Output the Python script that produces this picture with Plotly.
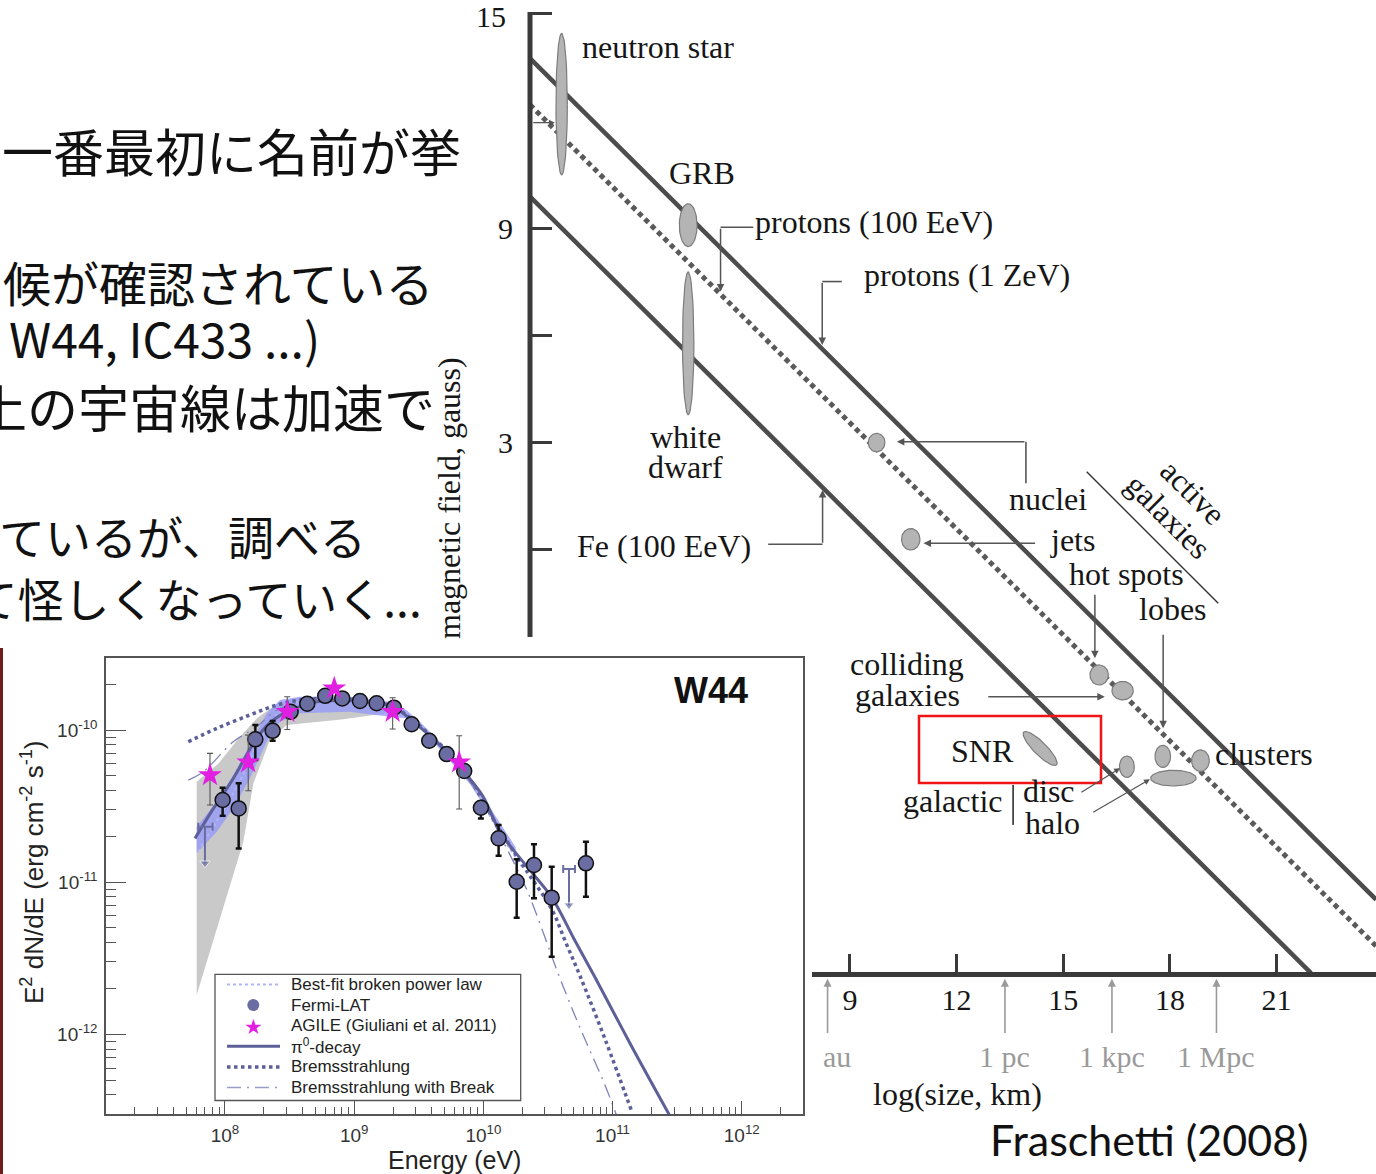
import numpy as np
import plotly.graph_objects as go

W, H = 1376, 1174

# ======================= Hillas diagram data =======================
# acceleration limits: log B = intercept + slope * log R   (R in km, B in gauss)
limit_names = ["protons (1 ZeV)", "protons (100 EeV)", "Fe (100 EeV)"]
limit_intercept = [13.75, 12.45, 9.88]
limit_slope = -0.99
limit_logR_end = [23.8, 23.8, 21.97]

# source classes: centre (log size, log field) and half extents
src_names = ["neutron star", "GRB", "white dwarf", "AGN nuclei", "AGN jets", "hot spots",
             "colliding galaxies", "SNR", "galactic disc", "clusters", "clusters", "galactic halo"]
src_logR = [0.89, 4.45, 4.45, 9.75, 10.71, 16.01, 16.67, 14.35, 16.79, 17.80, 18.86, 18.10]
src_logB = [12.47, 9.08, 5.77, 2.99, 0.28, -3.52, -3.96, -5.58, -6.09, -5.80, -5.92, -6.41]
src_dR = [0.16, 0.25, 0.16, 0.235, 0.26, 0.26, 0.30, 0.65, 0.21, 0.22, 0.25, 0.64]
src_dB = [1.98, 0.60, 2.00, 0.26, 0.30, 0.28, 0.26, 0.18, 0.30, 0.31, 0.30, 0.22]
src_tilt = [0, 0, 0, 0, 0, 0, 0, -45, 0, 0, 0, 0]

size_ticks = [9, 12, 15, 18, 21]
field_ticks = [15, 9, 6, 3, 0]
field_ticktext = ["", "9", "", "3", ""]   # the top label is placed separately below
field_top_label = "15"
scale_names = ["au", "1 pc", "1 kpc", "1 Mpc"]
scale_logR = [8.37, 13.36, 16.37, 19.31]

# ======================= W44 spectrum data =======================
# log10 E [eV], log10 E^2 dN/dE [erg cm^-2 s^-1]
lat_logE = [7.982, 8.106, 8.235, 8.369, 8.508, 8.637, 8.776, 8.908, 9.045, 9.174, 9.308,
            9.445, 9.581, 9.716, 9.852, 9.981, 10.118, 10.258, 10.392, 10.529, 10.794]
lat_logF = [-10.46, -10.515, -10.061, -10.005, -9.880, -9.827, -9.775, -9.792, -9.809, -9.824, -9.853,
            -9.962, -10.070, -10.158, -10.269, -10.511, -10.712, -10.997, -10.887, -11.102, -10.876]
lat_logF_hi = [-10.379, -10.350, -9.967, -9.941, -9.865, -9.812, -9.760, -9.777, -9.794, -9.809, -9.838,
               -9.947, -10.055, -10.143, -10.254, -10.482, -10.624, -10.850, -10.751, -10.898, -10.734]
lat_logF_lo = [-10.563, -10.778, -10.197, -10.070, -9.895, -9.842, -9.790, -9.807, -9.824, -9.839, -9.868,
               -9.977, -10.085, -10.173, -10.284, -10.581, -10.826, -11.234, -11.106, -11.490, -11.096]

ul_logE = [7.845, 10.663]
ul_logE_lo = [7.793, 10.618]
ul_logE_hi = [7.904, 10.709]
ul_logF = [-10.636, -10.914]
ul_logF_tip = [-10.876, -11.151]

agile_logE = [7.884, 8.180, 8.482, 8.846, 9.298, 9.813]
agile_logF = [-10.296, -10.212, -9.880, -9.726, -9.880, -10.212]
agile_logF_hi = [-10.153, -10.033, -9.781, -9.706, -9.788, -10.037]
agile_logF_lo = [-10.493, -10.399, -9.996, -9.746, -9.993, -10.519]

pi0_logE = [7.768, 7.90, 8.064, 8.15, 8.245, 8.35, 8.477, 8.60, 8.71, 8.90, 9.097, 9.303,
            9.458, 9.60, 9.716, 9.871, 10.0, 10.128, 10.32, 10.529, 10.70, 10.861, 11.142, 11.44]
pi0_logF = [-10.712, -10.53, -10.318, -10.19, -10.055, -9.95, -9.880, -9.84, -9.814, -9.805, -9.814, -9.847,
            -9.945, -10.05, -10.143, -10.296, -10.44, -10.668, -10.88, -11.10, -11.37, -11.62, -12.07, -12.53]

brem_logE = [7.716, 7.936, 8.193, 8.40, 8.58, 8.80, 9.10, 9.30, 9.46, 9.72, 9.87, 10.13,
             10.33, 10.53, 10.64, 10.75, 10.95, 11.15]
brem_logF = [-10.077, -9.989, -9.901, -9.836, -9.803, -9.79, -9.81, -9.845, -9.94, -10.14, -10.29, -10.66,
             -10.92, -11.18, -11.40, -11.62, -12.05, -12.51]

bbrk_logE = [7.716, 7.832, 8.064, 8.245, 8.40, 8.58, 8.80, 9.10, 9.30, 9.46, 9.72, 9.87, 10.0,
             10.128, 10.336, 10.593, 10.761, 10.941, 11.03]
bbrk_logF = [-10.329, -10.274, -10.077, -9.978, -9.87, -9.815, -9.795, -9.815, -9.85, -9.95, -10.15, -10.31, -10.47,
             -10.69, -11.05, -11.632, -11.983, -12.333, -12.53]

bpl_logE = [7.79, 7.95, 8.10, 8.25, 8.40, 8.55, 8.80, 9.10, 9.30, 9.46, 9.72, 9.87, 10.13, 10.30]
bpl_logF = [-10.80, -10.58, -10.36, -10.10, -9.90, -9.82, -9.79, -9.80, -9.84, -9.94, -10.15, -10.30, -10.68, -10.90]

band_logE = [7.781, 7.936, 8.064, 8.193, 8.323, 8.426, 8.580, 8.967, 9.277, 9.406, 9.509, 9.70, 9.90, 10.10, 10.25]
band_logF_hi = [-10.636, -10.471, -10.296, -10.099, -9.890, -9.803, -9.781, -9.781, -9.814, -9.869, -9.945,
                -10.11, -10.31, -10.57, -10.77]
band_logF_lo = [-10.81, -10.668, -10.515, -10.318, -10.077, -9.945, -9.890, -9.880, -9.913, -9.923, -9.978,
                -10.16, -10.36, -10.62, -10.82]

gray_up_logE = [7.781, 7.95, 8.10, 8.25, 8.40, 8.55, 8.90, 9.20, 9.40]
gray_up_logF = [-10.34, -10.22, -10.06, -9.92, -9.83, -9.79, -9.78, -9.80, -9.87]
gray_lo_logE = [9.40, 9.25, 8.90, 8.477, 8.35, 8.22, 8.142, 7.781]
gray_lo_logF = [-9.87, -9.89, -9.93, -9.967, -10.06, -10.35, -10.734, -11.742]

legend_labels = ["Best-fit broken power law", "Fermi-LAT", "AGILE (Giuliani et al. 2011)",
                 "\u03c0<sup>0</sup>-decay", "Bremsstrahlung", "Bremsstrahlung with Break"]

jp_lines = ["一番最初に名前が挙", "候が確認されている", "W44, IC433 ...)",
            "上の宇宙線は加速で", "ているが、調べる", "して怪しくなっていく..."]

# ======================= helpers =======================
def P(x, y):
    return x / W, 1 - y / H

def lin(a):
    return 10 ** np.asarray(a, dtype=float)

SERIF = "Liberation Serif"
SANS = "Liberation Sans"

# Hillas frame: pixel anchors of the two linear axes
X0, SX = 530.0, 35.55      # log R = 0 at x=530 px, px per decade
Y0, SY = 549.3, 35.7       # log B = 0 at y=549.3 px, px per decade
AXIS_LOGB = -11.91         # height of the size axis
YAXIS_LOW = -2.46          # where the field axis disappears under the inset

fig = go.Figure()

# ---------------------------------------------------------------
# W44 spectrum (xaxis / yaxis)
# ---------------------------------------------------------------
fig.add_trace(go.Scatter(
    x=lin(gray_up_logE + gray_lo_logE), y=lin(gray_up_logF + gray_lo_logF),
    fill="toself", fillcolor="#c9c9c9", mode="lines", line=dict(width=0),
    hoverinfo="skip"))
fig.add_trace(go.Scatter(
    x=lin(band_logE + band_logE[::-1]), y=lin(band_logF_hi + band_logF_lo[::-1]),
    fill="toself", fillcolor="rgba(150,154,248,0.8)", mode="lines", line=dict(width=0),
    hoverinfo="skip"))
fig.add_trace(go.Scatter(x=lin(bpl_logE), y=lin(bpl_logF), mode="lines", line_shape="spline",
                         line=dict(color="#b3b4f7", width=2, dash="dot")))
fig.add_trace(go.Scatter(x=lin(brem_logE), y=lin(brem_logF), mode="lines", line_shape="spline",
                         line=dict(color="#5d6098", width=3.5, dash="dot")))
fig.add_trace(go.Scatter(x=lin(bbrk_logE), y=lin(bbrk_logF), mode="lines", line_shape="spline",
                         line=dict(color="#7f83b8", width=1.3, dash="14px,6px,2px,6px")))
fig.add_trace(go.Scatter(x=lin(pi0_logE), y=lin(pi0_logF), mode="lines", line_shape="spline",
                         line=dict(color="#5d6098", width=3)))

# upper limits
for e, elo, ehi, f, tip in zip(ul_logE, ul_logE_lo, ul_logE_hi, ul_logF, ul_logF_tip):
    fig.add_trace(go.Scatter(
        x=[10 ** e], y=[10 ** f], mode="markers", marker=dict(size=0.1, color="#6a6da2"),
        error_x=dict(type="data", symmetric=False, array=[10 ** ehi - 10 ** e],
                     arrayminus=[10 ** e - 10 ** elo], color="#6a6da2", thickness=2, width=4)))
    fig.add_trace(go.Scatter(
        x=[10 ** e, 10 ** e], y=[10 ** f, 10 ** tip], mode="lines+markers",
        line=dict(color="#6a6da2", width=2),
        marker=dict(symbol="triangle-down", size=[0, 9], color="#6a6da2")))

# Fermi-LAT
lF = lin(lat_logF)
fig.add_trace(go.Scatter(
    x=lin(lat_logE), y=lF, mode="markers",
    marker=dict(symbol="circle", size=15, color="#6a6da2", line=dict(color="#111111", width=1.5)),
    error_y=dict(type="data", symmetric=False, array=lin(lat_logF_hi) - lF,
                 arrayminus=lF - lin(lat_logF_lo), color="#111111", thickness=2.5, width=3)))

# AGILE
aF = lin(agile_logF)
fig.add_trace(go.Scatter(
    x=lin(agile_logE), y=aF, mode="markers",
    marker=dict(symbol="star", size=18, color="#e11fe0", line=dict(width=0)),
    error_y=dict(type="data", symmetric=False, array=lin(agile_logF_hi) - aF,
                 arrayminus=aF - lin(agile_logF_lo), color="#555555", thickness=1.1, width=3)))

# ---------------------------------------------------------------
# Hillas diagram (xaxis2 / yaxis2)
# ---------------------------------------------------------------
HX = dict(xaxis="x2", yaxis="y2", hoverinfo="skip")
GRAYLINE = "#4c4c4c"

for name, b0, xend in zip(limit_names, limit_intercept, limit_logR_end):
    xs = np.array([0.0, xend])
    if name == "protons (100 EeV)":
        ln = dict(color="#5a5a5a", width=5, dash="5px,4px")
    else:
        ln = dict(color=GRAYLINE, width=4.5, dash="solid")
    fig.add_trace(go.Scatter(x=xs, y=b0 + limit_slope * xs, mode="lines", line=ln, **HX))

# axis lines
fig.add_trace(go.Scatter(x=[0, 0], y=[15.05, YAXIS_LOW], mode="lines",
                         line=dict(color="#3a3a3a", width=5), **HX))
fig.add_trace(go.Scatter(x=[(812 - X0) / SX, (W - X0) / SX], y=[AXIS_LOGB, AXIS_LOGB], mode="lines",
                         line=dict(color="#3a3a3a", width=5), **HX))

# source regions
for cx, cy, a, b, tilt in zip(src_logR, src_logB, src_dR, src_dB, src_tilt):
    t = np.linspace(0, 2 * np.pi, 72)
    th = np.radians(tilt)
    ex = cx + a * np.cos(t) * np.cos(th) - b * np.sin(t) * np.sin(th)
    ey = cy + a * np.cos(t) * np.sin(th) + b * np.sin(t) * np.cos(th)
    fig.add_trace(go.Scatter(x=ex, y=ey, mode="lines", fill="toself", fillcolor="#b4b4b4",
                             line=dict(color="#7c7c7c", width=1.2), **HX))

# bracket segments
segments = [
    ([6.28, 5.36], [9.02, 9.02]),
    ([8.77, 8.22], [7.50, 7.50]),
    ([6.70, 8.23], [0.14, 0.14]),
    ([13.95, 13.95], [1.85, 3.01]),
]
for sx_, sy_ in segments:
    fig.add_trace(go.Scatter(x=sx_, y=sy_, mode="lines", line=dict(color="#555555", width=1.6), **HX))
fig.add_trace(go.Scatter(x=[15.66, 19.36], y=[2.17, -1.51], mode="lines",
                         line=dict(color="#333333", width=1.4), **HX))
fig.add_trace(go.Scatter(x=[13.59, 13.59], y=[-6.60, -7.72], mode="lines",
                         line=dict(color="#444444", width=1.8), **HX))

annotations = []
shapes = []


def arrow(tail, tip, color="#555555", width=1.5, head=2):
    annotations.append(dict(
        x=tip[0], y=tip[1], ax=tail[0], ay=tail[1], xref="x2", yref="y2", axref="x2", ayref="y2",
        text="", showarrow=True, arrowhead=head, arrowsize=1.0, arrowwidth=width,
        arrowcolor=color, standoff=0, startstandoff=0))


arrow((5.36, 9.02), (5.36, 7.22))
arrow((8.22, 7.50), (8.22, 5.72))
arrow((8.23, 0.14), (8.23, 1.66))
arrow((13.95, 3.01), (10.32, 3.01))
arrow((14.25, 0.17), (11.07, 0.17))
arrow((15.89, -1.23), (15.89, -3.05))
arrow((17.81, -2.35), (17.81, -5.01))
arrow((12.85, -4.13), (16.17, -4.13))
arrow((15.47, -6.83), (16.60, -6.13), width=1.2)
arrow((15.80, -7.39), (17.44, -6.44), width=1.2)
arrow((0.05, 11.95), (0.70, 11.95), width=1.2)
for lr in scale_logR:
    arrow((lr, -13.59), (lr, AXIS_LOGB - 0.12), color="#9a9a9a", width=1.6)


def text(s, x, y, size, family=SERIF, color="#161616", xanchor="center", yanchor="middle",
         angle=0, bold=False):
    px_, py_ = P(x, y)
    annotations.append(dict(
        x=px_, y=py_, xref="paper", yref="paper", text=f"<b>{s}</b>" if bold else s,
        showarrow=False, xanchor=xanchor, yanchor=yanchor, textangle=angle,
        font=dict(family=family, size=size, color=color)))


FS = 32
text(field_top_label, 508, 17, 30, xanchor="right")
text("neutron star", 580, 47, FS, xanchor="left")
text("GRB", 702, 173, FS)
text("protons (100 EeV)", 753, 222, FS, xanchor="left")
text("protons (1 ZeV)", 862, 275, FS, xanchor="left")
text("white", 685, 437, FS)
text("dwarf", 685, 467, FS)
text("Fe (100 EeV)", 575, 546, FS, xanchor="left")
text("nuclei", 1007, 499, FS, xanchor="left")
text("jets", 1048, 540, FS, xanchor="left")
text("hot spots", 1067, 574, FS, xanchor="left")
text("lobes", 1137, 609, FS, xanchor="left")
text("active", 1193, 492, FS, angle=45)
text("galaxies", 1168, 516, FS, angle=45)
text("colliding", 907, 664, FS)
text("galaxies", 908, 695, FS)
text("SNR", 982, 751, FS)
text("galactic", 952, 801, FS)
text("disc", 1021, 791, FS, xanchor="left")
text("halo", 1023, 823, FS, xanchor="left")
text("clusters", 1213, 754, FS, xanchor="left")
for name, lr in zip(scale_names, scale_logR):
    xpx = X0 + lr * SX
    if name == "au":
        xpx = 837
    text(name, xpx, 1056, 30, color="#9a9a9a")
text("log(size, km)", 957, 1094, FS)
text("magnetic field, gauss)", 449, 355, FS, angle=-90, yanchor="top")

# slide text
jp_right = [463, 436, 322, 437, 368, 424]
jp_yc = [150, 281, 337, 406, 535, 597]
jp_size = [51, 48, 48, 51, 46, 46]
for s, xr, yc, fs in zip(jp_lines, jp_right, jp_yc, jp_size):
    text(s, xr, yc, fs, family="Noto Sans CJK JP", color="#111111", xanchor="right")

text("Fraschetti (2008)", 1149, 1139, 43, family="Lato", color="#111111")

# inset labels
text("W44", 711, 690, 36, family=SANS, color="#111111", bold=True)
text("Energy (eV)", 455, 1160, 25, family=SANS, color="#222222")
text("E<sup>2</sup> dN/dE (erg cm<sup>-2</sup> s<sup>-1</sup>)", 32, 872, 26, family=SANS,
     color="#222222", angle=-90)

# inset legend
LX0, LY0, LX1, LY1 = 215, 974.3, 520.7, 1100.5
x0, y0 = P(LX0, LY0)
x1, y1 = P(LX1, LY1)
shapes.append(dict(type="rect", xref="paper", yref="paper", x0=x0, x1=x1, y0=y1, y1=y0,
                   line=dict(color="#555555", width=1.3), fillcolor="white", layer="below"))
row_y = [984.5 + 20.6 * i for i in range(6)]
key_styles = [
    dict(color="#b3b4f7", width=2, dash="dot"),
    None,
    None,
    dict(color="#5d6098", width=3, dash="solid"),
    dict(color="#5d6098", width=3.5, dash="dot"),
    dict(color="#9a9dc8", width=1.3, dash="14px,6px,2px,6px"),
]
for lab, ry, st in zip(legend_labels, row_y, key_styles):
    text(lab, 289, ry, 17, family=SANS, color="#222222", xanchor="left")
    if st is not None:
        ka, kb = P(227, ry)
        kc, _ = P(280, ry)
        shapes.append(dict(type="line", xref="paper", yref="paper", x0=ka, x1=kc, y0=kb, y1=kb,
                           line=st, layer="above"))
cx0, cy0 = P(247.3, row_y[1] - 6)
cx1, cy1 = P(259.3, row_y[1] + 6)
shapes.append(dict(type="circle", xref="paper", yref="paper", x0=cx0, x1=cx1, y0=cy1, y1=cy0,
                   fillcolor="#6a6da2", line=dict(width=0), layer="above"))
text("\u2605", 253.3, row_y[2] + 1, 21, family="DejaVu Sans", color="#e11fe0")

# SNR highlight box
shapes.append(dict(type="rect", xref="x2", yref="y2",
                   x0=(919 - X0) / SX, x1=(1101 - X0) / SX,
                   y0=(Y0 - 783) / SY, y1=(Y0 - 716) / SY,
                   line=dict(color="#f01414", width=2.5), layer="above"))

# slide background edge on the left
shapes.append(dict(type="rect", xref="paper", yref="paper", x0=0, x1=3 / W, y0=0, y1=1 - 648 / H,
                   fillcolor="#6e1c1c", line=dict(width=0), layer="below"))

# ---------------------------------------------------------------
# axes
# ---------------------------------------------------------------
x_minor = [m * 10.0 ** n for n in range(7, 13) for m in range(2, 10)]
y_minor = [m * 10.0 ** n for n in range(-13, -9) for m in range(2, 10)]
tick_font = dict(family=SANS, size=19, color="#333333")

ix0, iy_top = P(106, 657.5)
ix1, iy_bot = P(802.7, 1114.3)
hx0, _ = P(523, 0)
_, hy_top = P(0, 8)
_, hy_bot = P(0, 1042)

fig.update_layout(
    width=W, height=H, margin=dict(l=0, r=0, t=0, b=0, autoexpand=False),
    paper_bgcolor="white", plot_bgcolor="rgba(0,0,0,0)", showlegend=False,
    xaxis=dict(type="log", domain=[ix0, ix1], range=[7.079, 12.472], anchor="y",
               automargin=False,
               showline=True, linecolor="#555555", linewidth=1.5, mirror=True,
               showgrid=False, zeroline=False,
               ticks="inside", ticklen=14, tickwidth=1.3, tickcolor="#555555",
               tickvals=[1e8, 1e9, 1e10, 1e11, 1e12],
               ticktext=["10<sup>8</sup>", "10<sup>9</sup>", "10<sup>10</sup>",
                         "10<sup>11</sup>", "10<sup>12</sup>"],
               minor=dict(ticks="inside", ticklen=8, tickwidth=1.2, tickcolor="#555555",
                          tickmode="array", tickvals=x_minor),
               tickfont=tick_font, ticklabelstandoff=3),
    yaxis=dict(type="log", domain=[iy_bot, iy_top], range=[-12.526, -9.523], anchor="x",
               automargin=False,
               showline=True, linecolor="#555555", linewidth=1.5, mirror=True,
               showgrid=False, zeroline=False,
               ticks="inside", ticklen=20, tickwidth=1.3, tickcolor="#555555",
               tickvals=[1e-12, 1e-11, 1e-10],
               ticktext=["10<sup>-12</sup>", "10<sup>-11</sup>", "10<sup>-10</sup>"],
               minor=dict(ticks="inside", ticklen=10, tickwidth=1.2, tickcolor="#555555",
                          tickmode="array", tickvals=y_minor),
               tickfont=tick_font, ticklabelstandoff=3),
    xaxis2=dict(domain=[hx0, 1.0], range=[(523 - X0) / SX, (W - X0) / SX],
                anchor="free", position=1 - (Y0 - AXIS_LOGB * SY) / H, automargin=False,
                showline=False, showgrid=False, zeroline=False,
                tickmode="array", tickvals=size_ticks, ticks="inside", ticklen=20, tickwidth=3,
                tickcolor="#3a3a3a", tickfont=dict(family=SERIF, size=30, color="#161616"),
                ticklabelstandoff=5),
    yaxis2=dict(domain=[hy_bot, hy_top], range=[(Y0 - 1042) / SY, (Y0 - 8) / SY],
                anchor="free", position=X0 / W, automargin=False,
                showline=False, showgrid=False, zeroline=False,
                tickmode="array", tickvals=field_ticks, ticktext=field_ticktext,
                ticks="inside", ticklen=21, tickwidth=3, tickcolor="#3a3a3a",
                tickfont=dict(family=SERIF, size=30, color="#161616"), ticklabelstandoff=17),
    annotations=annotations,
    shapes=shapes,
)

fig.write_html("out.html")
